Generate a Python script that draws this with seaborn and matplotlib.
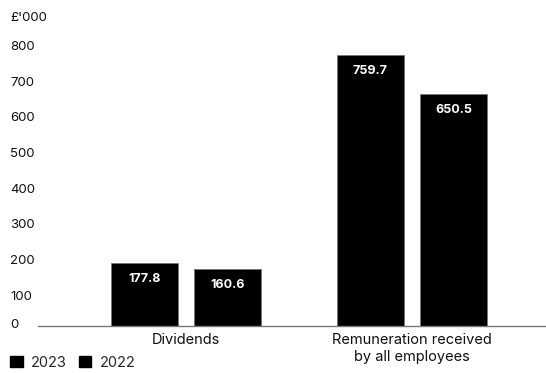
import matplotlib
matplotlib.use("Agg")
import matplotlib.pyplot as plt
import matplotlib.transforms as mtransforms
from matplotlib.patches import Patch
import pandas as pd
import seaborn as sns

categories = ["Dividends", "Remuneration received\nby all employees"]
years = ["2023", "2022"]
values_2023 = [177.8, 759.7]
values_2022 = [160.6, 650.5]
y_ticks = [0, 100, 200, 300, 400, 500, 600, 700, 800]

df = pd.DataFrame({
    "category": categories * 2,
    "year": [years[0]] * 2 + [years[1]] * 2,
    "value": values_2023 + values_2022,
})

sns.set_theme(style="white")
plt.rcParams["font.family"] = ["Inter", "DejaVu Sans"]

fig = plt.figure(figsize=(5.46, 3.73), dpi=100)
ax = fig.add_axes([38 / 546, 47 / 373, 1 - 38 / 546, 285.6 / 373])

sns.barplot(data=df, x="category", y="value", hue="year", hue_order=years,
            palette=["#000000", "#000000"], width=0.74, gap=0.2,
            edgecolor="#777777", linewidth=0.6, legend=False, ax=ax)

for container in ax.containers:
    ax.bar_label(container, labels=[f"{v:.1f}" for v in container.datavalues],
                 label_type="edge", padding=-16, color="white",
                 fontsize=9, fontweight="bold")

ax.set_xlim(-0.655, 1.593)
ax.set_ylim(0, 800)
ax.set_yticks(y_ticks)
ax.set_xlabel("")
ax.set_ylabel("")

for side in ["top", "right", "left"]:
    ax.spines[side].set_visible(False)
ax.spines["bottom"].set_color("#777777")
ax.spines["bottom"].set_linewidth(1.0)

ax.tick_params(axis="y", length=0, pad=20, labelsize=9.5, labelcolor="#111111")
ax.tick_params(axis="x", length=0, pad=5, labelsize=10.5, labelcolor="#111111")
for lbl, val in zip(ax.get_yticklabels(), y_ticks):
    shift = 3 if val == 0 else -5
    lbl.set_horizontalalignment("left")
    lbl.set_transform(lbl.get_transform() + mtransforms.ScaledTranslation(
        0, shift / 100, fig.dpi_scale_trans))
for lbl in ax.get_xticklabels():
    lbl.set_linespacing(1.25)

fig.text(10 / 546, 1 - 18 / 373, "£'000", fontsize=9.5, color="#111111",
         va="center", ha="left")

handles = [Patch(facecolor="#000000", edgecolor="#000000", label=y) for y in years]
fig.legend(handles=handles, loc="lower left", bbox_to_anchor=(0.0, -0.018),
           ncol=2, frameon=False, fontsize=10.5, handlelength=0.85,
           handleheight=0.85, handletextpad=0.6, columnspacing=0.8,
           borderaxespad=0.3)

fig.savefig("out.png", dpi=100)
